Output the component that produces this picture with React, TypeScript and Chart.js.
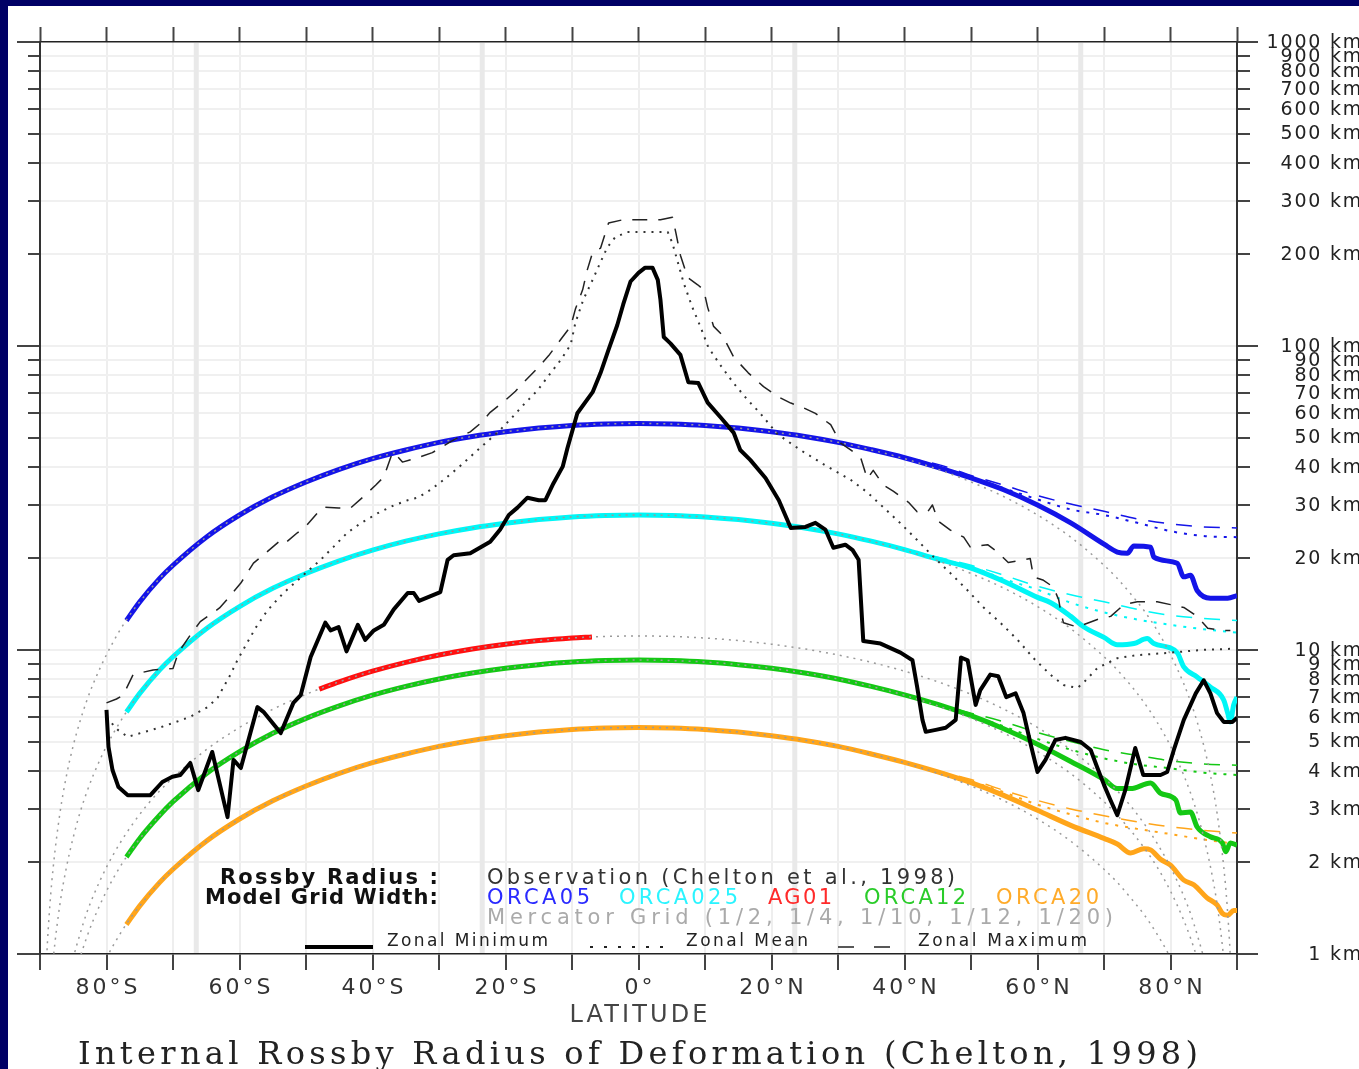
import React, { useEffect, useRef } from 'react';
import { Chart, registerables } from 'chart.js';

Chart.register(...registerables);

const W = 1359;
const H = 1069;

// ---------- axes / tick labels ----------
const latTicks = [-80, -60, -40, -20, 0, 20, 40, 60, 80];
const latTickLabels = ['80°S', '60°S', '40°S', '20°S', '0°', '20°N', '40°N', '60°N', '80°N'];
const kmTicks = [1, 2, 3, 4, 5, 6, 7, 8, 9, 10, 20, 30, 40, 50, 60, 70, 80, 90, 100, 200, 300, 400, 500, 600, 700, 800, 900, 1000];
const kmMajor = [1, 10, 100, 1000];
const tropicLats = [-66.5, -23.5, 23.5, 66.5];

// ---------- Mercator grid widths (grey dotted) ----------
const mercLat = [-89.5, -89, -88.5, -88, -87, -86, -85, -84, -83, -82, -80, -78, -76, -74, -72, -70, -65, -60, -55, -50, -45, -40, -35, -30, -25, -20, -15, -10, -5,
  0, 5, 10, 15, 20, 25, 30, 35, 40, 45, 50, 55, 60, 65, 70, 72, 74, 76, 78, 80, 82, 83, 84, 85, 86, 87, 88, 88.5, 89, 89.5];
const merc05 = [0.49, 0.97, 1.46, 1.94, 2.91, 3.88, 4.85, 5.81, 6.78, 7.74, 9.65, 11.6, 13.5, 15.3, 17.2, 19.0, 23.5, 27.8, 31.9, 35.7, 39.3, 42.6, 45.5, 48.2, 50.4, 52.2, 53.7, 54.8, 55.4,
  55.6, 55.4, 54.8, 53.7, 52.2, 50.4, 48.2, 45.5, 42.6, 39.3, 35.7, 31.9, 27.8, 23.5, 19.0, 17.2, 15.3, 13.5, 11.6, 9.65, 7.74, 6.78, 5.81, 4.85, 3.88, 2.91, 1.94, 1.46, 0.97, 0.49];
const merc025 = [0.24, 0.49, 0.73, 0.97, 1.46, 1.94, 2.42, 2.91, 3.39, 3.87, 4.83, 5.78, 6.73, 7.66, 8.6, 9.5, 11.75, 13.9, 15.95, 17.85, 19.65, 21.3, 22.8, 24.1, 25.2, 26.1, 26.85, 27.4, 27.7,
  27.8, 27.7, 27.4, 26.85, 26.1, 25.2, 24.1, 22.8, 21.3, 19.65, 17.85, 15.95, 13.9, 11.75, 9.5, 8.6, 7.66, 6.73, 5.78, 4.83, 3.87, 3.39, 2.91, 2.42, 1.94, 1.46, 0.97, 0.73, 0.49, 0.24];
const merc10 = [0.1, 0.19, 0.29, 0.39, 0.58, 0.78, 0.97, 1.16, 1.36, 1.55, 1.93, 2.31, 2.69, 3.07, 3.44, 3.8, 4.7, 5.56, 6.38, 7.15, 7.86, 8.52, 9.11, 9.63, 10.08, 10.45, 10.74, 10.95, 11.08,
  11.12, 11.08, 10.95, 10.74, 10.45, 10.08, 9.63, 9.11, 8.52, 7.86, 7.15, 6.38, 5.56, 4.7, 3.8, 3.44, 3.07, 2.69, 2.31, 1.93, 1.55, 1.36, 1.16, 0.97, 0.78, 0.58, 0.39, 0.29, 0.19, 0.1];
const merc12 = [0.08, 0.16, 0.24, 0.32, 0.49, 0.65, 0.81, 0.97, 1.13, 1.29, 1.61, 1.93, 2.24, 2.55, 2.86, 3.17, 3.92, 4.63, 5.32, 5.96, 6.55, 7.1, 7.59, 8.03, 8.4, 8.71, 8.95, 9.13, 9.23,
  9.27, 9.23, 9.13, 8.95, 8.71, 8.4, 8.03, 7.59, 7.1, 6.55, 5.96, 5.32, 4.63, 3.92, 3.17, 2.86, 2.55, 2.24, 1.93, 1.61, 1.29, 1.13, 0.97, 0.81, 0.65, 0.49, 0.32, 0.24, 0.16, 0.08];
const merc20 = [0.05, 0.1, 0.15, 0.19, 0.29, 0.39, 0.48, 0.58, 0.68, 0.77, 0.97, 1.16, 1.35, 1.53, 1.72, 1.9, 2.35, 2.78, 3.19, 3.57, 3.93, 4.26, 4.55, 4.82, 5.04, 5.22, 5.37, 5.48, 5.54,
  5.56, 5.54, 5.48, 5.37, 5.22, 5.04, 4.82, 4.55, 4.26, 3.93, 3.57, 3.19, 2.78, 2.35, 1.9, 1.72, 1.53, 1.35, 1.16, 0.97, 0.77, 0.68, 0.58, 0.48, 0.39, 0.29, 0.19, 0.15, 0.1, 0.05];

// ---------- model grids: zonal minimum (thick solid) ----------
const orca05Lat = [-77, -75, -72, -70, -65, -60, -55, -50, -45, -40, -35, -30, -25, -20, -15, -10, -5, 0, 5, 10, 15, 20, 25, 30, 35, 40,
  45, 50, 55, 60, 65, 70, 72, 73.5, 74.5, 77, 77.5, 81, 82, 83, 84, 86, 88.6, 90];
const orca05Min = [12.5, 14.4, 17.2, 19.0, 23.5, 27.8, 31.9, 35.7, 39.3, 42.6, 45.5, 48.2, 50.4, 52.2, 53.7, 54.8, 55.4, 55.6, 55.4, 54.8, 53.7, 52.2, 50.4, 48.2, 45.6, 42.9,
  39.9, 36.8, 33.6, 30.0, 26.2, 22.3, 21.0, 20.8, 22.0, 21.8, 20.2, 19.3, 17.4, 17.6, 15.7, 14.8, 14.8, 15.1];

const orca025Lat = [-77, -75, -72, -70, -65, -60, -55, -50, -45, -40, -35, -30, -25, -20, -15, -10, -5, 0, 5, 10, 15, 20, 25, 30, 35, 40,
  45, 50, 55, 60, 62, 65, 67, 70, 72, 74.5, 76.5, 77.5, 81, 82, 84, 86, 88, 88.6, 89, 89.5, 90];
const orca025Min = [6.25, 7.2, 8.6, 9.5, 11.75, 13.9, 15.95, 17.85, 19.65, 21.3, 22.8, 24.1, 25.2, 26.1, 26.85, 27.4, 27.7, 27.8, 27.7, 27.4, 26.85, 26.1, 25.2, 24.1, 22.8, 21.4,
  19.9, 18.6, 16.8, 14.9, 14.3, 12.9, 11.9, 11.0, 10.4, 10.5, 10.9, 10.5, 9.8, 8.8, 8.15, 7.55, 6.85, 6.2, 5.8, 6.6, 7.0];

const ag01Lat = [-48, -45, -40, -35, -30, -25, -20, -15, -10, -7];
const ag01Min = [7.44, 7.86, 8.52, 9.11, 9.63, 10.08, 10.45, 10.74, 10.95, 11.04];

const orca12Lat = [-77, -75, -72, -70, -65, -60, -55, -50, -45, -40, -35, -30, -25, -20, -15, -10, -5, 0, 5, 10, 15, 20, 25, 30, 35, 40,
  45, 50, 55, 60, 65, 70, 72, 74, 77, 78.5, 80.8, 81.5, 83, 84, 86, 87.8, 88.3, 89, 90];
const orca12Min = [2.085, 2.4, 2.86, 3.17, 3.92, 4.63, 5.32, 5.96, 6.55, 7.1, 7.59, 8.03, 8.4, 8.71, 8.95, 9.13, 9.23, 9.27, 9.23, 9.13, 8.95, 8.71, 8.4, 8.03, 7.59, 7.12,
  6.62, 6.08, 5.5, 4.9, 4.3, 3.75, 3.5, 3.5, 3.65, 3.38, 3.21, 2.91, 2.93, 2.62, 2.43, 2.32, 2.17, 2.32, 2.28];

const orca20Lat = [-77, -75, -72, -70, -65, -60, -55, -50, -45, -40, -35, -30, -25, -20, -15, -10, -5, 0, 5, 10, 15, 20, 25, 30, 35, 40,
  45, 50, 55, 60, 65, 70, 72, 74, 76, 77, 78.5, 80, 82, 83.5, 85.5, 87, 87.8, 88.6, 89.5, 90];
const orca20Min = [1.25, 1.44, 1.72, 1.9, 2.35, 2.78, 3.19, 3.57, 3.93, 4.26, 4.55, 4.82, 5.04, 5.22, 5.37, 5.48, 5.54, 5.56, 5.54, 5.48, 5.37, 5.22, 5.04, 4.82, 4.55, 4.27,
  3.97, 3.66, 3.32, 2.97, 2.65, 2.4, 2.3, 2.15, 2.22, 2.2, 2.05, 1.96, 1.75, 1.69, 1.53, 1.45, 1.36, 1.34, 1.39, 1.39];

// ---------- model grids in the north: zonal maximum / zonal mean ----------
const northLat = [40, 45, 50, 55, 60, 65, 70, 75, 80, 85, 90];
const orca05Max = [42.9, 40.8, 37.5, 34.8, 32.2, 30.2, 28.6, 27.0, 26.0, 25.4, 25.2];
const orca05Mean = [42.9, 40.3, 37.0, 34.0, 31.3, 29.0, 27.8, 26.2, 24.6, 23.7, 23.5];
const orca025Max = [21.4, 20.2, 19.0, 17.6, 16.2, 15.2, 14.4, 13.6, 13.0, 12.7, 12.5];
const orca025Mean = [21.4, 20.0, 18.8, 17.1, 15.8, 14.3, 13.3, 12.6, 12.1, 11.7, 11.4];
const orca12Max = [7.12, 6.6, 6.2, 5.8, 5.35, 5.0, 4.7, 4.5, 4.32, 4.22, 4.18];
const orca12Mean = [7.12, 6.6, 6.1, 5.6, 5.1, 4.7, 4.4, 4.2, 4.08, 3.95, 3.88];
const orca20Max = [4.27, 4.0, 3.75, 3.45, 3.2, 3.0, 2.85, 2.72, 2.62, 2.55, 2.5];
const orca20Mean = [4.27, 3.98, 3.7, 3.4, 3.1, 2.88, 2.7, 2.58, 2.48, 2.38, 2.3];

// ---------- observation (Chelton et al., 1998): [latitude, km] ----------
const obsMin: [number, number][] = [
  [-80.0, 6.35], [-79.7, 4.8], [-79.1, 4.03], [-78.2, 3.54], [-76.8, 3.33], [-73.4, 3.33], [-71.6, 3.68], [-70.1, 3.83], [-68.9, 3.88], [-67.4, 4.25],
  [-66.2, 3.46], [-64.1, 4.62], [-61.8, 2.82], [-60.9, 4.35], [-59.8, 4.09], [-57.3, 6.49], [-56.4, 6.26], [-53.8, 5.33], [-51.9, 6.7], [-50.8, 7.1],
  [-49.3, 9.49], [-47.1, 12.3], [-46.3, 11.6], [-45.1, 11.9], [-43.9, 9.9], [-42.2, 12.1], [-41.1, 10.8], [-39.8, 11.6], [-38.3, 12.1], [-36.8, 13.6],
  [-34.7, 15.4], [-33.8, 15.4], [-33.0, 14.5], [-29.8, 15.5], [-28.7, 19.8], [-27.8, 20.5], [-25.3, 20.8], [-22.3, 22.7], [-20.8, 24.9], [-19.5, 27.8],
  [-18.2, 29.4], [-16.7, 31.7], [-15.0, 31.1], [-14.0, 31.1], [-12.8, 35.3], [-11.4, 40.1], [-10.7, 46.0], [-9.2, 60.1], [-6.9, 70.5], [-5.7, 81.6],
  [-4.5, 97.3], [-3.2, 117], [-2.3, 137], [-1.2, 163], [0.0, 174], [1.0, 181], [2.1, 181], [2.9, 165], [3.3, 142], [3.8, 107],
  [4.8, 102], [6.3, 93.5], [7.5, 76.0], [9.0, 75.5], [10.4, 65.1], [12.3, 58.4], [14.3, 51.9], [15.3, 45.5], [16.8, 42.2], [19.1, 36.8],
  [21.1, 31.1], [22.9, 25.2], [25.1, 25.4], [26.6, 26.2], [28.1, 24.9], [29.3, 21.7], [31.1, 22.2], [32.2, 21.3], [33.1, 19.8], [33.8, 10.7],
  [36.4, 10.5], [39.4, 9.8], [41.2, 9.25], [41.9, 7.56], [42.7, 5.89], [43.2, 5.38], [44.7, 5.46], [46.2, 5.55], [47.7, 5.89], [48.5, 9.45],
  [49.5, 9.25], [50.7, 6.6], [51.4, 7.38], [52.9, 8.3], [54.1, 8.2], [55.3, 7.0], [56.7, 7.2], [57.9, 6.2], [59.0, 4.87], [60.0, 3.97],
  [61.2, 4.35], [62.7, 5.06], [64.2, 5.14], [66.5, 4.98], [68.0, 4.69], [69.0, 4.1], [70.0, 3.6], [71.0, 3.2], [72.0, 2.86], [73.2, 3.46],
  [74.7, 4.76], [75.9, 3.88], [78.5, 3.88], [79.5, 3.97], [80.5, 4.69], [82.0, 5.89], [83.8, 7.2], [85.0, 7.95], [86.0, 7.2], [87.0, 6.2],
  [88.0, 5.8], [89.3, 5.8], [90.0, 5.98],
];

const obsMax: [number, number][] = [
  [-80.0, 6.7], [-78.5, 6.9], [-77.5, 7.1], [-76.0, 8.3], [-73.0, 8.6], [-70.0, 8.7], [-69.2, 9.8], [-67.4, 11.2], [-65.9, 12.4], [-63.0, 13.75],
  [-61.7, 14.8], [-59.8, 16.6], [-57.9, 19.3], [-56.8, 20.2], [-54.1, 22.7], [-53.4, 22.2], [-51.3, 24.3], [-50.1, 25.4], [-48.3, 28.2], [-47.4, 29.5],
  [-45.1, 29.3], [-43.3, 29.3], [-41.4, 31.9], [-39.5, 34.9], [-38.3, 37.1], [-37.0, 44.6], [-36.2, 43.2], [-35.5, 41.5], [-32.8, 43.2], [-31.0, 44.6],
  [-29.5, 46.6], [-28.3, 48.4], [-27.2, 49.9], [-25.3, 52.2], [-23.8, 55.6], [-22.3, 60.5], [-20.3, 65.5], [-18.5, 71], [-17.0, 77], [-15.3, 84],
  [-13.5, 93], [-11.7, 105], [-10.2, 116], [-9.5, 132], [-8.4, 153], [-7.7, 178], [-6.9, 203], [-5.7, 210], [-4.5, 254], [-2.4, 260],
  [0.0, 260], [3.3, 260], [5.1, 265], [5.6, 237], [6.3, 199], [7.4, 168], [8.9, 159], [9.8, 153], [10.4, 134], [11.3, 116],
  [12.6, 108.7], [14.3, 92], [16.5, 81.6], [18.8, 73.5], [21.1, 67.9], [22.9, 64.9], [24.4, 63.2], [26.6, 60.0], [28.9, 55.1], [30.4, 47.9],
  [31.9, 45.5], [33.4, 43.0], [34.4, 36.6], [35.3, 39.0], [36.8, 34.9], [38.3, 33.3], [40.6, 30.6], [41.9, 28.5], [43.5, 28.5], [44.2, 30.0],
  [45.1, 26.5], [46.9, 24.8], [48.9, 23.5], [49.9, 21.8], [52.5, 22.2], [54.0, 21.0], [55.6, 19.4], [57.9, 19.8], [58.9, 20.0], [59.4, 17.4],
  [60.8, 17.0], [62.4, 16.1], [63.2, 14.6], [63.5, 13.3], [63.9, 12.3], [66.0, 11.9], [69.0, 12.6], [71.0, 12.9], [73.0, 14.1], [75.0, 14.4],
  [78.0, 14.4], [80.0, 14.1], [82.0, 13.8], [84.0, 12.9], [85.6, 11.8], [87.5, 11.6], [89.0, 11.6],
];

const obsMean: [number, number][] = [
  [-80.0, 6.0], [-78.3, 5.46], [-76.8, 5.18], [-74.9, 5.33], [-72.3, 5.53], [-69.9, 5.76], [-67.4, 6.03], [-64.8, 6.49], [-63.3, 6.96], [-62.4, 7.56],
  [-61.4, 8.27], [-60.3, 9.27], [-58.8, 10.6], [-57.6, 11.8], [-55.8, 13.5], [-53.4, 15.4], [-50.8, 17.3], [-49.6, 18.3], [-47.8, 19.8], [-45.9, 21.8],
  [-43.8, 24.3], [-41.8, 26.1], [-39.2, 28.2], [-36.8, 29.9], [-34.7, 31.1], [-33.2, 31.7], [-31.3, 33.6], [-29.3, 36.3], [-27.2, 39.6], [-25.3, 43.2],
  [-23.3, 47.3], [-21.2, 51.9], [-19.2, 57.6], [-17.3, 64.0], [-15.2, 71.4], [-13.2, 81.6], [-11.7, 89.9], [-10.2, 101], [-9.5, 119], [-8.3, 142],
  [-6.9, 165], [-5.7, 189], [-4.7, 211], [-3.5, 228], [-1.7, 237], [4.4, 237], [5.1, 218], [5.9, 189], [6.8, 161], [8.1, 134],
  [9.3, 116], [10.5, 99], [12.3, 86.6], [14.3, 75.5], [16.4, 66.5], [18.3, 60.1], [20.9, 51.3], [24.4, 45.4], [28.0, 40.6], [31.9, 36.3],
  [34.4, 33.0], [36.8, 29.5], [39.4, 26.1], [41.9, 23.0], [44.4, 20.2], [46.9, 17.9], [49.5, 15.7], [51.9, 13.8], [54.4, 12.3], [57.0, 10.8],
  [59.4, 9.4], [62.0, 8.27], [63.9, 7.67], [66.0, 7.5], [66.9, 7.8], [69.0, 8.72], [72.0, 9.4], [75.0, 9.62], [80.0, 9.8], [84.5, 10.0],
  [89.5, 10.1],
];

// ---------- legend texts ----------
const modelNames = ['ORCA05', 'ORCA025', 'AG01', 'ORCA12', 'ORCA20'];
const mercatorText = 'Mercator Grid (1/2, 1/4, 1/10, 1/12, 1/20)';
const obsText = 'Observation (Chelton et al., 1998)';
const titleText = 'Internal Rossby Radius of Deformation (Chelton, 1998)';

const C_BLUE = '#1414e8';
const C_CYAN = '#00f6f6';
const C_RED = '#ff1010';
const C_GREEN = '#14c814';
const C_ORANGE = '#ffa51a';
const C_GREY = '#9a9a9a';

function spaced(ctx: CanvasRenderingContext2D, text: string, x: number, y: number,
  o: { font: string; color: string; spacing?: number; width?: number; align?: 'left' | 'center' | 'right' }) {
  ctx.save();
  ctx.font = o.font;
  ctx.fillStyle = o.color;
  ctx.textBaseline = 'middle';
  ctx.textAlign = 'left';
  (ctx as any).letterSpacing = '0px';
  const w0 = ctx.measureText(text).width;
  const n = text.length;
  let s = o.spacing ?? 0;
  if (o.width != null && n > 1) s = (o.width - w0) / (n - 1);
  const total = w0 + s * (n - 1);
  let left = x;
  if (o.align === 'center') left = x - total / 2;
  else if (o.align === 'right') left = x - total;
  (ctx as any).letterSpacing = s + 'px';
  ctx.fillText(text, left, y);
  ctx.restore();
}

export default function App() {
  const ref = useRef<HTMLCanvasElement>(null);

  useEffect(() => {
    const canvas = ref.current;
    if (!canvas) return;

    const pts = (lats: number[], vals: number[]) => lats.map((x, i) => ({ x, y: vals[i] }));
    const pairs = (p: [number, number][]) => p.map(([x, y]) => ({ x, y }));

    const line = (label: string, data: any[], color: string, width: number, dash: number[], smooth: boolean) => ({
      type: 'line' as const,
      label,
      data,
      borderColor: color,
      backgroundColor: color,
      borderWidth: width,
      borderDash: dash,
      pointRadius: 0,
      pointHoverRadius: 0,
      fill: false,
      showLine: true,
      tension: smooth ? 0.4 : 0,
      cubicInterpolationMode: smooth ? ('monotone' as const) : ('default' as const),
      capBezierPoints: false,
      borderJoinStyle: 'round' as const,
      borderCapStyle: 'butt' as const,
      xAxisID: 'x',
      yAxisID: 'y',
    });

    // first dataset is drawn on top
    const datasets = [
      line('Observation zonal minimum', pairs(obsMin), '#000000', 4, [], false),
      line('Observation zonal maximum', pairs(obsMax), '#222222', 1.5, [15, 11], false),
      line('Observation zonal mean', pairs(obsMean), '#333333', 2, [2, 6], false),
      line('Mercator 1/2', pts(mercLat, merc05), C_GREY, 1.5, [2, 5], true),
      line('Mercator 1/4', pts(mercLat, merc025), C_GREY, 1.5, [2, 5], true),
      line('Mercator 1/10', pts(mercLat, merc10), C_GREY, 1.5, [2, 5], true),
      line('Mercator 1/12', pts(mercLat, merc12), C_GREY, 1.5, [2, 5], true),
      line('Mercator 1/20', pts(mercLat, merc20), C_GREY, 1.5, [2, 5], true),
      line('ORCA05', pts(orca05Lat, orca05Min), C_BLUE, 5, [], true),
      line('ORCA025', pts(orca025Lat, orca025Min), C_CYAN, 5, [], true),
      line('AG01', pts(ag01Lat, ag01Min), C_RED, 5, [], true),
      line('ORCA12', pts(orca12Lat, orca12Min), C_GREEN, 5, [], true),
      line('ORCA20', pts(orca20Lat, orca20Min), C_ORANGE, 5, [], true),
      line('ORCA05 max', pts(northLat, orca05Max), C_BLUE, 1.5, [16, 12], true),
      line('ORCA05 mean', pts(northLat, orca05Mean), C_BLUE, 2, [3, 7], true),
      line('ORCA025 max', pts(northLat, orca025Max), C_CYAN, 1.5, [16, 12], true),
      line('ORCA025 mean', pts(northLat, orca025Mean), C_CYAN, 2, [3, 7], true),
      line('ORCA12 max', pts(northLat, orca12Max), C_GREEN, 1.5, [16, 12], true),
      line('ORCA12 mean', pts(northLat, orca12Mean), C_GREEN, 2, [3, 7], true),
      line('ORCA20 max', pts(northLat, orca20Max), C_ORANGE, 1.5, [16, 12], true),
      line('ORCA20 mean', pts(northLat, orca20Mean), C_ORANGE, 2, [3, 7], true),
    ];

    const zero = (s: any) => {
      if (s.isHorizontal()) s.height = 0;
      else s.width = 0;
    };
    const setTicks = (vals: number[]) => (s: any) => {
      s.ticks = vals.map((v) => ({ value: v }));
    };
    const gridX = (c: any) => (c.tick && Math.abs(c.tick.value) === 90 ? 'rgba(0,0,0,0)' : '#eeeeee');
    const gridY = (c: any) => (c.tick && (c.tick.value === 1 || c.tick.value === 1000) ? 'rgba(0,0,0,0)' : '#f0f0f0');

    const logAxis = (position: 'left' | 'right', vals: number[], tickLength: number, onArea: boolean, border: boolean) => ({
      type: 'logarithmic' as const,
      position,
      min: 1,
      max: 1000,
      ticks: { display: false },
      grid: {
        display: true,
        drawOnChartArea: onArea,
        color: gridY,
        lineWidth: 2,
        drawTicks: true,
        tickLength,
        tickColor: '#444444',
        tickWidth: 2,
      },
      border: { display: border, color: '#333333', width: 2 },
      afterFit: zero,
      afterBuildTicks: setTicks(vals),
    });

    const decor = {
      id: 'decor',
      beforeDraw(chart: any) {
        const ctx = chart.ctx as CanvasRenderingContext2D;
        ctx.save();
        ctx.fillStyle = '#000066';
        ctx.fillRect(0, 0, W, H);
        ctx.fillStyle = '#ffffff';
        ctx.fillRect(8, 6, W - 8, H - 6);
        ctx.restore();
      },
      beforeDatasetsDraw(chart: any) {
        const ctx = chart.ctx as CanvasRenderingContext2D;
        const a = chart.chartArea;
        const xs = chart.scales.x;
        ctx.save();
        ctx.strokeStyle = '#e9e9e9';
        ctx.lineWidth = 5;
        tropicLats.forEach((lat) => {
          const px = xs.getPixelForValue(lat);
          ctx.beginPath();
          ctx.moveTo(px, a.top + 1);
          ctx.lineTo(px, a.bottom - 1);
          ctx.stroke();
        });
        ctx.restore();
      },
      afterDraw(chart: any) {
        const ctx = chart.ctx as CanvasRenderingContext2D;
        const xs = chart.scales.x;
        const ys = chart.scales.y;
        const a = chart.chartArea;

        // latitude tick labels
        latTicks.forEach((v, i) => {
          spaced(ctx, latTickLabels[i], xs.getPixelForValue(v), 988, { font: '22px "DejaVu Sans"', color: '#333333', spacing: 3, align: 'center' });
        });

        // km labels on the right axis
        const kmX = a.right + 95;
        const s = 1.8;
        const kmFont = '19px "DejaVu Sans"';
        ctx.save();
        ctx.font = kmFont;
        kmTicks.forEach((v) => {
          const num = String(v);
          (ctx as any).letterSpacing = '0px';
          const w = ctx.measureText(num + ' ').width + s * (num.length + 1);
          spaced(ctx, num + ' km', kmX - w - 2, ys.getPixelForValue(v) + 1, { font: kmFont, color: '#222222', spacing: s });
        });
        ctx.restore();

        // axis title and caption
        spaced(ctx, 'LATITUDE', (a.left + a.right) / 2, 1016, { font: '24px "DejaVu Sans"', color: '#444444', width: 138, align: 'center' });
        spaced(ctx, titleText, 638, 1056, { font: '32px "DejaVu Serif"', color: '#222222', width: 1120, align: 'center' });

        // legend block
        spaced(ctx, 'Rossby Radius :', 438, 879, { font: 'bold 21px "DejaVu Sans"', color: '#111111', width: 218, align: 'right' });
        spaced(ctx, 'Model Grid Width:', 438, 899, { font: 'bold 21px "DejaVu Sans"', color: '#111111', width: 233, align: 'right' });
        spaced(ctx, obsText, 487, 879, { font: '21px "DejaVu Sans"', color: '#333333', width: 468 });
        const nameX = [[487, 590], [619, 738], [768, 832], [864, 966], [996, 1099]];
        const nameC = ['#2a2aff', '#2af4ff', '#ff2a2a', '#2acc2a', '#ffab2a'];
        modelNames.forEach((nm, i) => {
          spaced(ctx, nm, nameX[i][0], 899, { font: '21px "DejaVu Sans"', color: nameC[i], width: nameX[i][1] - nameX[i][0] });
        });
        spaced(ctx, mercatorText, 487, 919, { font: '21px "DejaVu Sans"', color: '#aaaaaa', width: 626 });

        // line-style key
        ctx.save();
        ctx.strokeStyle = '#000000';
        ctx.lineWidth = 4;
        ctx.beginPath();
        ctx.moveTo(305, 947);
        ctx.lineTo(373, 947);
        ctx.stroke();
        ctx.lineWidth = 2;
        ctx.strokeStyle = '#222222';
        ctx.setLineDash([3, 11]);
        ctx.beginPath();
        ctx.moveTo(590, 947);
        ctx.lineTo(664, 947);
        ctx.stroke();
        ctx.lineWidth = 1.5;
        ctx.setLineDash([16, 20]);
        ctx.beginPath();
        ctx.moveTo(838, 947);
        ctx.lineTo(891, 947);
        ctx.stroke();
        ctx.restore();
        spaced(ctx, 'Zonal Minimum', 387, 942, { font: '17px "DejaVu Sans"', color: '#222222', width: 161 });
        spaced(ctx, 'Zonal Mean', 686, 942, { font: '17px "DejaVu Sans"', color: '#222222', width: 122 });
        spaced(ctx, 'Zonal Maximum', 918, 942, { font: '17px "DejaVu Sans"', color: '#222222', width: 169 });
      },
    };

    const chart = new Chart(canvas, {
      type: 'line',
      data: { datasets: datasets as any },
      options: {
        animation: false,
        responsive: false,
        devicePixelRatio: 1,
        events: [],
        layout: { padding: { left: 40, top: 42, right: W - 1237, bottom: H - 954 } },
        plugins: { legend: { display: false }, tooltip: { enabled: false }, title: { display: false } },
        scales: {
          x: {
            type: 'linear',
            position: 'bottom',
            min: -90,
            max: 90,
            ticks: { display: false, stepSize: 10 },
            grid: { color: gridX, lineWidth: 2, drawTicks: true, tickLength: 16, tickColor: '#444444', tickWidth: 2 },
            border: { display: true, color: '#222222', width: 1.5 },
            afterFit: zero,
          },
          xTop: {
            type: 'linear',
            position: 'top',
            min: -90,
            max: 90,
            ticks: { display: false, stepSize: 10 },
            grid: { drawOnChartArea: false, drawTicks: true, tickLength: 15, tickColor: '#444444', tickWidth: 2 },
            border: { display: true, color: '#222222', width: 1.5 },
            afterFit: zero,
          },
          y: logAxis('left', kmTicks, 12, true, true),
          yMajor: logAxis('left', kmMajor, 23, false, false),
          yRight: logAxis('right', kmTicks, 13, false, true),
          yRightMajor: logAxis('right', kmMajor, 21, false, false),
        } as any,
      },
      plugins: [decor],
    } as any);

    return () => chart.destroy();
  }, []);

  return (
    <div style={{ position: 'absolute', left: 0, top: 0, width: W, height: H, overflow: 'hidden' }}>
      <canvas ref={ref} width={W} height={H} style={{ display: 'block', width: W, height: H }} />
    </div>
  );
}
